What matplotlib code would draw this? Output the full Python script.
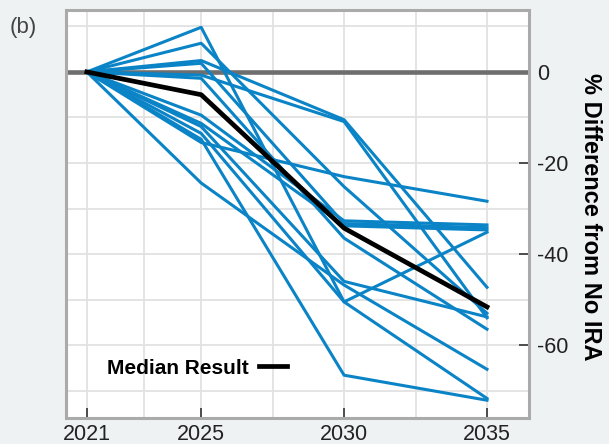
import matplotlib
matplotlib.use("Agg")
import matplotlib.pyplot as plt
from matplotlib.lines import Line2D

plt.rcParams['font.family'] = ['Liberation Sans', 'DejaVu Sans']

years = [2021, 2025, 2030, 2035]
x_ticks = [2021, 2025, 2030, 2035]
x_minor = [2023, 2027.5, 2032.5]
y_ticks = [0, -20, -40, -60]
y_minor = [10, -10, -30, -50, -70]

scenarios = [
    [0, 9.8, -50.5, -35.2],
    [0, 6.3, -25.2, -53.0],
    [0, 2.5, -10.5, -47.3],
    [0, -0.7, -10.9, -54.0],
    [0, 1.9, -33.3, -34.2],
    [0, -1.4, -36.5, -56.5],
    [0, -15.5, -23.0, -28.4],
    [0, -9.5, -32.7, -33.6],
    [0, -11.3, -33.8, -34.7],
    [0, -12.0, -46.0, -53.8],
    [0, -14.8, -66.6, -72.1],
    [0, -24.4, -46.8, -65.3],
    [0, -13.5, -50.5, -71.7],
]
median = [0, -5.0, -34.3, -51.6]

BLUE = '#0a84c6'
BG = '#eef2f3'

fig = plt.figure(figsize=(6.09, 4.44), dpi=100, facecolor=BG)
ax = fig.add_axes([66/609, 1-418/444, (529-66)/609, (418-10)/444])
ax.set_facecolor('white')

ax.set_xlim(2020.27, 2036.47)
ax.set_ylim(-76.0, 13.6)

ax.set_xticks(x_ticks)
ax.set_xticks(x_minor, minor=True)
ax.set_yticks(y_ticks)
ax.set_yticks(y_minor, minor=True)
ax.grid(True, which='both', color='#e2e2e2', lw=1.3, zorder=0)
ax.set_axisbelow(True)

for s in ax.spines.values():
    s.set_color('#aaaaaa')
    s.set_linewidth(2.2)

ax.yaxis.tick_right()
ax.tick_params(axis='both', which='major', direction='in', length=7.5, width=1.2,
               color='#333333', labelsize=15.5, labelcolor='#222222')
ax.tick_params(axis='y', which='major', pad=6, left=False, right=True)
ax.tick_params(axis='x', which='major', pad=4, top=False)
ax.tick_params(which='minor', length=0)
ax.set_yticklabels([str(v) for v in y_ticks])

ax.axhline(0, color='#6e6e6e', lw=3.3, zorder=2)

for s in scenarios:
    ax.plot(years, s, color=BLUE, lw=2.2, zorder=3)
ax.plot(years, median, color='black', lw=3.4, zorder=4)

handle = Line2D([], [], color='black', lw=3.4)
leg = ax.legend([handle], ['Median Result'], loc='center left',
                bbox_to_anchor=(0.0886, 0.1225), frameon=False, markerfirst=False,
                handlelength=1.35, handletextpad=0.5, borderpad=0, borderaxespad=0,
                prop={'weight': 'bold', 'size': 15})
leg.get_texts()[0].set_color('black')

fig.text(590/609, 1-217/444, '% Difference from No IRA', rotation=270,
         ha='center', va='center', fontsize=17, fontweight='bold', color='black')
fig.text(10/609, 1-27/444, '(b)', ha='left', va='center', fontsize=16, color='#444444')

fig.savefig('out.png', dpi=100, facecolor=BG)
